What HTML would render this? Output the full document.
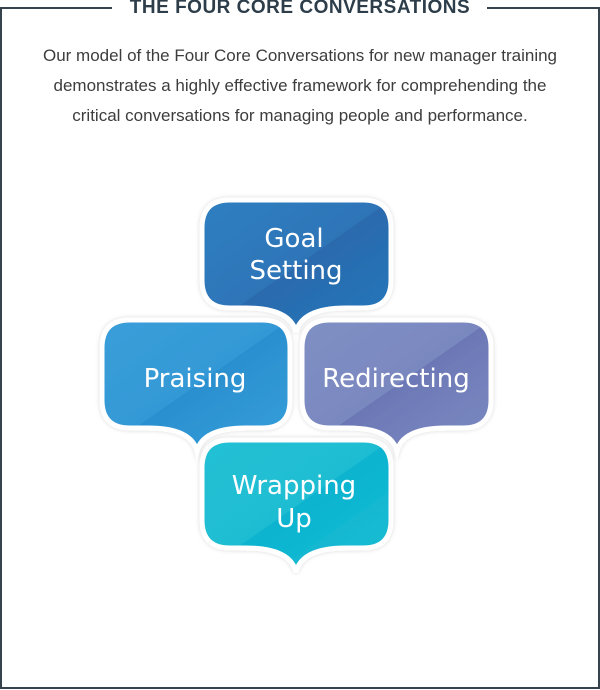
<!DOCTYPE html>
<html><head><meta charset="utf-8"><style>
html,body{margin:0;padding:0;background:#fff;}
body{width:600px;height:690px;position:relative;overflow:hidden;font-family:"Liberation Sans",sans-serif;}
.frame{position:absolute;left:0;top:8px;width:596px;height:679px;border:2px solid #36434c;border-top:none;}
.tl{position:absolute;top:7px;height:2px;background:#36434c;}
.title{position:absolute;top:-3px;left:0;width:600px;text-align:center;font-weight:bold;font-size:19px;color:#2d3e4a;letter-spacing:0.5px;}
.body{position:absolute;top:41px;left:0;width:600px;text-align:center;font-size:17px;line-height:30px;color:#3d3d3d;}
svg{position:absolute;left:0;top:0;}
</style></head><body>
<div class="frame"></div>
<div class="tl" style="left:0;width:112px"></div>
<div class="tl" style="left:487px;width:113px"></div>
<div class="title">THE FOUR CORE CONVERSATIONS</div>
<div class="body">Our model of the Four Core Conversations for new manager training<br>demonstrates a highly effective framework for comprehending the<br>critical conversations for managing people and performance.</div>
<svg width="600" height="690" viewBox="0 0 600 690">
<defs>
<linearGradient id="g1" x1="0" y1="0" x2="1" y2="1"><stop offset="0" stop-color="#2f7fc0"/><stop offset="0.5" stop-color="#2e75b8"/><stop offset="0.5" stop-color="#2a6aad"/><stop offset="1" stop-color="#2378bc"/></linearGradient>
<linearGradient id="g2" x1="0" y1="0" x2="1" y2="1"><stop offset="0" stop-color="#3a9ed8"/><stop offset="0.5" stop-color="#3399d6"/><stop offset="0.5" stop-color="#2b8fcf"/><stop offset="1" stop-color="#35a0da"/></linearGradient>
<linearGradient id="g3" x1="0" y1="0" x2="1" y2="1"><stop offset="0" stop-color="#7f90c4"/><stop offset="0.5" stop-color="#7a88c0"/><stop offset="0.5" stop-color="#6c78b6"/><stop offset="1" stop-color="#7c8bc2"/></linearGradient>
<linearGradient id="g4" x1="0" y1="0" x2="1" y2="1"><stop offset="0" stop-color="#22c0d4"/><stop offset="0.5" stop-color="#1fbdd2"/><stop offset="0.5" stop-color="#09b3cf"/><stop offset="1" stop-color="#1fbfd4"/></linearGradient>
<filter id="sh" x="-10%" y="-10%" width="120%" height="120%"><feDropShadow dx="0" dy="0" stdDeviation="2" flood-color="#000" flood-opacity="0.15"/></filter>
</defs>
<g stroke="#fff" stroke-width="5" filter="url(#sh)">
<path fill="url(#g1)" d="M230 200 H363 Q391 200 391 228 V280 Q391 308 363 308 H346 Q302 308 296 332 Q290 308 246 308 H230 Q202 308 202 280 V228 Q202 200 230 200 Z"/>
<path fill="url(#g2)" d="M130 320 H262 Q290 320 290 348 V400 Q290 428 262 428 H246 Q203 428 197 451 Q191 428 148 428 H130 Q102 428 102 400 V348 Q102 320 130 320 Z"/>
<path fill="url(#g3)" d="M330 320 H463 Q491 320 491 348 V400 Q491 428 463 428 H446 Q403 428 397 451 Q391 428 348 428 H330 Q302 428 302 400 V348 Q302 320 330 320 Z"/>
<path fill="url(#g4)" d="M230 440 H363 Q391 440 391 468 V520 Q391 548 363 548 H346 Q302 548 296 572 Q290 548 246 548 H230 Q202 548 202 520 V468 Q202 440 230 440 Z"/>
</g>
<g fill="#fff" font-family="'DejaVu Sans',sans-serif" font-size="26" text-anchor="middle">
<text x="294" y="247">Goal</text>
<text x="296" y="279">Setting</text>
<text x="195" y="387">Praising</text>
<text x="396" y="387">Redirecting</text>
<text x="294" y="494">Wrapping</text>
<text x="294" y="527">Up</text>
</g>
</svg>
</body></html>
